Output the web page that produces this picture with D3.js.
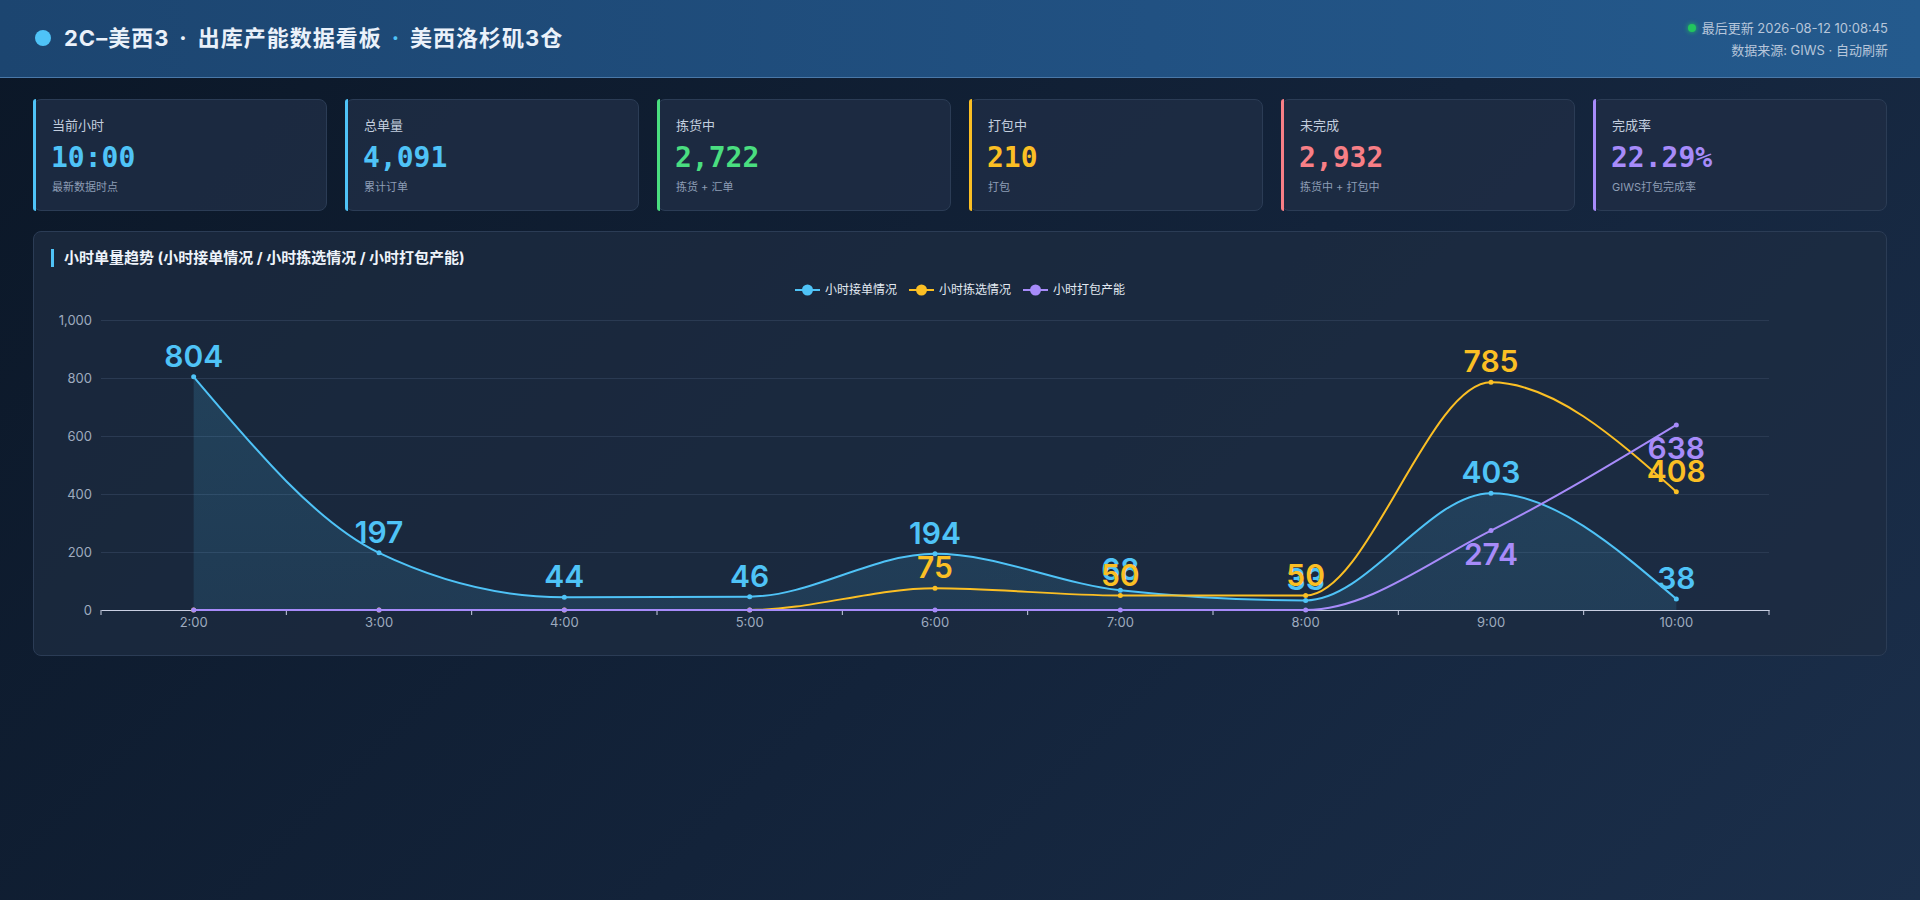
<!DOCTYPE html>
<html>
<head>
<meta charset="utf-8">
<script src="https://cdn.jsdelivr.net/npm/d3@7"></script>
<style>
  body {
    margin: 0;
    width: 1920px;
    height: 900px;
    overflow: hidden;
    font-family: "Inter", "Noto Sans CJK SC", sans-serif;
    background: linear-gradient(135deg, #0b1727 0%, #13233a 55%, #1b2f4b 100%);
    position: relative;
  }
  .header {
    position: absolute;
    left: 0; top: 0;
    width: 1920px; height: 78px;
    background: linear-gradient(90deg, #1c4570 0%, #215182 60%, #245a8d 100%);
    border-bottom: 1px solid #4a78a8;
    box-sizing: border-box;
  }
  .title {
    position: absolute;
    left: 35px; top: 24px;
    font-size: 22px;
    font-weight: 700;
    color: #eaf1fa;
    letter-spacing: 1px;
    line-height: 28px;
    display: flex;
    align-items: center;
  }
  .title .dot {
    width: 16px; height: 16px;
    border-radius: 50%;
    background: #4fc3f7;
    margin-right: 13px;
  }
  .title .sep { margin: 0 10px; color: #eaf1fa; }
  .title .sep.blue { color: #4fc3f7; }
  .meta {
    position: absolute;
    right: 32px; top: 17px;
    text-align: right;
    font-size: 13px;
    color: #b7c6da;
    line-height: 22px;
  }
  .meta .live {
    display: inline-block;
    width: 8px; height: 8px;
    border-radius: 50%;
    background: #22c55e;
    box-shadow: 0 0 5px #22c55e;
    margin-right: 6px;
    vertical-align: 1px;
  }
  .card {
    position: absolute;
    top: 99px;
    width: 294px; height: 112px;
    box-sizing: border-box;
    background: rgba(31, 45, 68, 0.85);
    border: 1px solid #2b3c55;
    border-radius: 8px;
  }
  .card .bar {
    position: absolute;
    left: -1px; top: -1px; bottom: -1px;
    width: 3px;
    border-radius: 8px 0 0 8px;
  }
  .card .lab { position: absolute; left: 18px; top: 15px; font-size: 13px; color: #c3cede; }
  .card .val {
    position: absolute; left: 17px; top: 41px;
    font-family: "DejaVu Sans Mono", monospace;
    font-weight: 700; font-size: 28px;
  }
  .card .sub { position: absolute; left: 18px; top: 78px; font-size: 11px; color: #8d9db5; }
  .panel {
    position: absolute;
    left: 33px; top: 231px;
    width: 1854px; height: 425px;
    box-sizing: border-box;
    background: rgba(30, 44, 66, 0.75);
    border: 1px solid #2b3c55;
    border-radius: 8px;
  }
  svg { position: absolute; left: 0; top: 0; }
</style>
</head>
<body>
<div class="header">
  <div class="title">
    <span class="dot"></span>2C–美西3<span class="sep">·</span>出库产能数据看板<span class="sep blue">·</span>美西洛杉矶3仓
  </div>
  <div class="meta">
    <div><span class="live"></span>最后更新 2026-08-12 10:08:45</div>
    <div>数据来源: GIWS · 自动刷新</div>
  </div>
</div>
<div class="panel"></div>
<svg></svg>
<script>
// KPI cards
const cardTitles = ["当前小时", "总单量", "拣货中", "打包中", "未完成", "完成率"]
const cardValues = ["10:00", "4,091", "2,722", "210", "2,932", "22.29%"]
const cardNotes = ["最新数据时点", "累计订单", "拣货 + 汇单", "打包", "拣货中 + 打包中", "GIWS打包完成率"]
const cardColors = ["#4fc3f7", "#4fc3f7", "#4ade80", "#fbbf24", "#f87f86", "#a78bfa"]

// hourly chart
const hours = ["2:00", "3:00", "4:00", "5:00", "6:00", "7:00", "8:00", "9:00", "10:00"]
const orders = [804, 197, 44, 46, 194, 68, 33, 403, 38]
const picking = [0, 0, 0, 0, 75, 50, 50, 785, 408]
const packing = [0, 0, 0, 0, 0, 0, 0, 274, 638]
const yTicks = [0, 200, 400, 600, 800, 1000]
const seriesNames = ["小时接单情况", "小时拣选情况", "小时打包产能"]
const seriesColors = ["#4fc3f7", "#fbbf24", "#a78bfa"]

const cards = d3.select("body")
    .selectAll("div.card")
    .data(cardTitles)
    .enter()
    .append("div")
    .attr("class", "card")
    .style("left", (d, i) => (33 + i * 312) + "px")

cards.append("div").attr("class", "bar").style("background", (d, i) => cardColors[i])
cards.append("div").attr("class", "lab").text(d => d)
cards.append("div").attr("class", "val").style("color", (d, i) => cardColors[i]).text((d, i) => cardValues[i])
cards.append("div").attr("class", "sub").text((d, i) => cardNotes[i])

const svg = d3.select("svg")
    .attr("width", 1920)
    .attr("height", 900)

// panel title
svg.append("rect")
    .attr("x", 51).attr("y", 249)
    .attr("width", 3).attr("height", 18)
    .attr("fill", "#4fc3f7")

svg.append("text")
    .attr("x", 64).attr("y", 263)
    .attr("fill", "#eef3fa")
    .attr("font-size", 15)
    .attr("font-weight", 700)
    .text("小时单量趋势 (小时接单情况 / 小时拣选情况 / 小时打包产能)")

const plotLeft = 101, plotRight = 1769, plotTop = 320, plotBottom = 610

const x = d3.scaleBand()
    .domain(hours)
    .range([plotLeft, plotRight])

const cx = i => x(hours[i]) + x.bandwidth() / 2

const y = d3.scaleLinear()
    .domain([0, 1000])
    .range([plotBottom, plotTop])

// y axis + grid
const yAxis = svg.append("g")
    .attr("transform", `translate(${plotLeft},0)`)
    .call(d3.axisLeft(y).tickValues(yTicks).tickFormat(d3.format(",")).tickSize(-(plotRight - plotLeft)).tickPadding(9))

yAxis.select(".domain").remove()
yAxis.selectAll("line").attr("stroke", "#2a3a52")
yAxis.selectAll("text")
    .attr("fill", "#9eabbf")
    .attr("font-size", 13)
    .attr("font-family", "Inter, sans-serif")

// x axis
const xAxis = svg.append("g")
    .attr("transform", `translate(0,${plotBottom})`)
    .call(d3.axisBottom(x).tickSize(0).tickPadding(8))

xAxis.select(".domain").attr("stroke", "#c9cfe2")
xAxis.selectAll("text")
    .attr("fill", "#9eabbf")
    .attr("font-size", 13)
    .attr("font-family", "Inter, sans-serif")

const bounds = hours.map(h => x(h)).concat([plotRight])
svg.append("g")
    .selectAll("line")
    .data(bounds)
    .enter()
    .append("line")
    .attr("x1", d => d).attr("x2", d => d)
    .attr("y1", plotBottom).attr("y2", plotBottom + 5)
    .attr("stroke", "#c9cfe2")

// blue area
const defs = svg.append("defs")
const grad = defs.append("linearGradient")
    .attr("id", "areaGrad")
    .attr("x1", 0).attr("y1", 0).attr("x2", 0).attr("y2", 1)
grad.append("stop").attr("offset", "0%").attr("stop-color", "#4fc3f7").attr("stop-opacity", 0.16)
grad.append("stop").attr("offset", "100%").attr("stop-color", "#4fc3f7").attr("stop-opacity", 0.12)

const area = d3.area()
    .x((d, i) => cx(i))
    .y0(plotBottom)
    .y1(d => y(d))
    .curve(d3.curveMonotoneX)

svg.append("path")
    .datum(orders)
    .attr("d", area)
    .attr("fill", "url(#areaGrad)")

const line = d3.line()
    .x((d, i) => cx(i))
    .y(d => y(d))
    .curve(d3.curveMonotoneX)

const allSeries = [orders, picking, packing]

allSeries.forEach((values, s) => {
    svg.append("path")
        .datum(values)
        .attr("d", line)
        .attr("fill", "none")
        .attr("stroke", seriesColors[s])
        .attr("stroke-width", 2)

    svg.append("g")
        .selectAll("circle")
        .data(values)
        .enter()
        .append("circle")
        .attr("cx", (d, i) => cx(i))
        .attr("cy", d => y(d))
        .attr("r", 2.5)
        .attr("fill", seriesColors[s])
})

// value labels (purple ones sit below the point, zeros hidden)
allSeries.forEach((values, s) => {
    const shown = values.map((v, i) => ({ v, i })).filter(d => d.v > 0)
    svg.append("g")
        .selectAll("text")
        .data(shown)
        .enter()
        .append("text")
        .attr("x", d => cx(d.i))
        .attr("y", d => s === 2 ? y(d.v) + 34 : y(d.v) - 10)
        .attr("text-anchor", "middle")
        .attr("fill", seriesColors[s])
        .attr("font-size", 30)
        .attr("font-weight", 600)
        .attr("font-family", "Inter, sans-serif")
        .text(d => d.v)
})

// legend
const legend = svg.append("g")
let lx = 0
const items = legend.selectAll("g")
    .data(seriesNames)
    .enter()
    .append("g")

items.append("line")
    .attr("x1", 0).attr("x2", 25)
    .attr("stroke", (d, i) => seriesColors[i])
    .attr("stroke-width", 2)
items.append("circle")
    .attr("cx", 12.5).attr("r", 5.5)
    .attr("fill", (d, i) => seriesColors[i])
items.append("text")
    .attr("x", 30).attr("dy", "0.35em")
    .attr("fill", "#e3e9f2")
    .attr("font-size", 12)
    .text(d => d)

items.each(function() {
    const g = d3.select(this)
    g.attr("transform", `translate(${lx},0)`)
    lx += 30 + g.select("text").node().getComputedTextLength() + 12
})
legend.attr("transform", `translate(${960 - (lx - 12) / 2},290)`)
</script>
</body>
</html>
